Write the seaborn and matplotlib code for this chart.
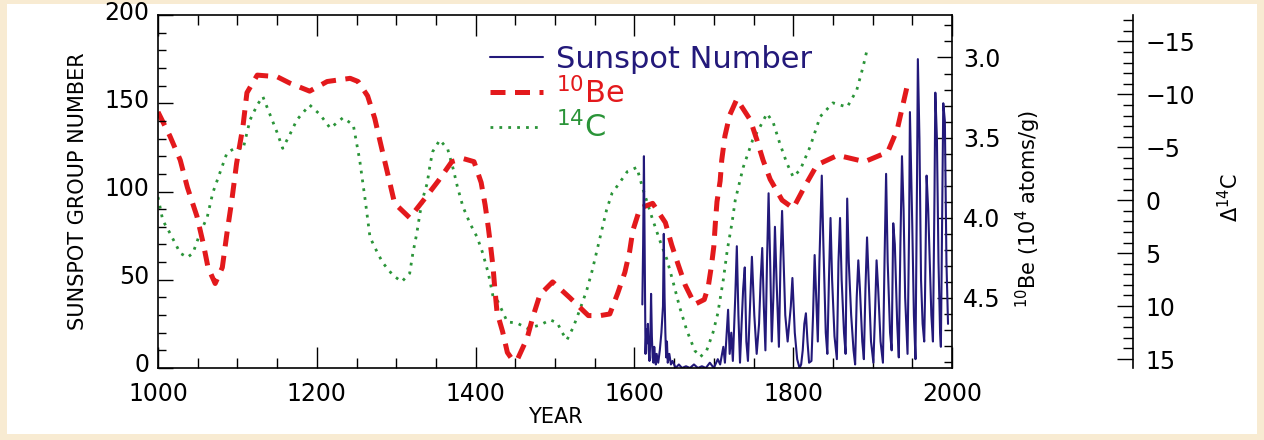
import numpy as np
import pandas as pd
import matplotlib
matplotlib.use("Agg")
import matplotlib.pyplot as plt
import matplotlib.transforms as mtransforms
import seaborn as sns
from matplotlib.ticker import MultipleLocator, FormatStrFormatter
from matplotlib.patches import Rectangle

# ---------------- data ----------------
sunspot_year = [1610, 1611, 1612, 1613, 1614, 1615, 1616, 1617, 1618, 1619, 1620, 1621, 1622, 1623,
                1624, 1625, 1626, 1627, 1628, 1630, 1632, 1634, 1636, 1637, 1638, 1639, 1640, 1641,
                1642, 1644, 1646, 1648, 1652, 1656, 1660, 1665, 1670, 1675, 1680, 1685, 1690, 1695,
                1700, 1705, 1708, 1712, 1714, 1716, 1718, 1720, 1722, 1724, 1727, 1729, 1731, 1733,
                1735, 1737, 1739, 1741, 1743, 1746, 1748, 1751, 1754, 1757, 1759, 1761, 1763, 1765,
                1767, 1769, 1771, 1773, 1775, 1777, 1779, 1782, 1784, 1786, 1788, 1790, 1793, 1795,
                1797, 1799, 1802, 1805, 1808, 1810, 1812, 1814, 1816, 1818, 1820, 1823, 1825, 1827,
                1829, 1831, 1833, 1836, 1838, 1841, 1843, 1845, 1847, 1849, 1852, 1855, 1857, 1859,
                1861, 1864, 1866, 1868, 1870, 1873, 1876, 1878, 1880, 1882, 1884, 1887, 1889, 1891,
                1893, 1895, 1898, 1901, 1903, 1905, 1907, 1910, 1913, 1915, 1917, 1919, 1922, 1924,
                1926, 1928, 1931, 1933, 1935, 1937, 1939, 1941, 1944, 1946, 1947, 1950, 1952, 1954,
                1956, 1957, 1959, 1961, 1963, 1965, 1966, 1968, 1970, 1972, 1974, 1976, 1978, 1979,
                1981, 1983, 1985, 1986, 1988, 1989, 1991, 1993, 1995]
sunspot_value = [36, 70, 120, 60, 8, 22, 14, 25, 10, 4, 15, 42, 18, 6,
                 3, 12, 5, 2, 8, 3, 10, 20, 35, 76, 40, 20, 6, 15,
                 3, 8, 2, 4, 0, 2, 0, 1, 0, 2, 0, 1, 0, 3,
                 0, 5, 2, 12, 3, 18, 33, 8, 20, 4, 40, 69, 30, 3,
                 25, 45, 57, 15, 4, 40, 63, 30, 8, 25, 50, 68, 35, 10,
                 60, 99, 60, 15, 40, 80, 50, 12, 60, 89, 60, 30, 15, 25,
                 35, 51, 20, 5, 0, 2, 10, 25, 31, 15, 3, 4, 30, 64,
                 40, 15, 60, 109, 70, 20, 8, 50, 85, 50, 18, 5, 60, 85,
                 50, 20, 8, 96, 60, 30, 10, 2, 40, 61, 45, 15, 5, 45,
                 74, 50, 15, 3, 30, 61, 45, 15, 3, 60, 110, 60, 20, 10,
                 82, 70, 25, 6, 70, 120, 90, 40, 8, 80, 145, 80, 30, 5,
                 110, 175, 130, 50, 25, 15, 40, 109, 90, 60, 30, 15, 100, 156,
                 130, 60, 20, 12, 100, 150, 140, 60, 25]

be10_year = [1000, 1015, 1028, 1037, 1049, 1057, 1063, 1072, 1081, 1087, 1093, 1099, 1107, 1112,
             1125, 1150, 1166, 1191, 1213, 1242, 1252, 1264, 1273, 1280, 1290, 1298, 1317, 1336,
             1353, 1370, 1384, 1398, 1407, 1412, 1416, 1419, 1422, 1424, 1427, 1434, 1440, 1447,
             1453, 1465, 1472, 1481, 1497, 1519, 1542, 1557, 1569, 1579, 1588, 1594, 1598, 1607,
             1623, 1639, 1647, 1655, 1664, 1676, 1688, 1693, 1697, 1700, 1702, 1704, 1708, 1710,
             1714, 1720, 1729, 1746, 1754, 1762, 1771, 1786, 1800, 1815, 1830, 1856, 1890, 1919,
             1931, 1937, 1943]
be10_value = [3.34, 3.49, 3.64, 3.81, 3.99, 4.16, 4.31, 4.41, 4.31, 4.09, 3.89, 3.66, 3.43, 3.22,
              3.11, 3.12, 3.16, 3.21, 3.15, 3.13, 3.15, 3.24, 3.38, 3.53, 3.74, 3.91, 4.00, 3.88,
              3.77, 3.65, 3.63, 3.65, 3.78, 3.92, 4.06, 4.18, 4.31, 4.43, 4.59, 4.71, 4.84, 4.89,
              4.88, 4.75, 4.62, 4.48, 4.40, 4.50, 4.61, 4.61, 4.60, 4.47, 4.34, 4.21, 4.08, 3.94,
              3.91, 4.03, 4.17, 4.29, 4.42, 4.54, 4.51, 4.43, 4.30, 4.18, 4.03, 3.90, 3.77, 3.64,
              3.49, 3.36, 3.26, 3.39, 3.51, 3.64, 3.76, 3.89, 3.94, 3.80, 3.67, 3.61, 3.65, 3.59,
              3.45, 3.32, 3.19]

c14_year = [1000, 1006, 1015, 1028, 1037, 1044, 1053, 1062, 1069, 1078, 1087, 1099, 1107, 1116,
            1125, 1132, 1141, 1150, 1157, 1166, 1175, 1191, 1204, 1217, 1233, 1246, 1254, 1261,
            1267, 1276, 1283, 1296, 1307, 1317, 1321, 1326, 1330, 1334, 1339, 1343, 1346, 1355,
            1365, 1372, 1377, 1384, 1393, 1402, 1409, 1416, 1422, 1427, 1440, 1452, 1465, 1481,
            1494, 1503, 1509, 1515, 1523, 1531, 1540, 1547, 1553, 1559, 1565, 1572, 1579, 1591,
            1603, 1611, 1622, 1632, 1641, 1649, 1657, 1666, 1676, 1683, 1691, 1699, 1705, 1712,
            1717, 1723, 1727, 1737, 1749, 1758, 1767, 1775, 1783, 1792, 1800, 1809, 1821, 1834,
            1850, 1868, 1880, 1888, 1893]
c14_value = [-0.3, 1.9, 3.1, 5.0, 5.4, 5.0, 3.1, 1.6, -0.7, -2.6, -4.5, -5.0, -4.8, -7.6,
             -9.0, -9.8, -8.1, -6.4, -4.9, -6.2, -7.6, -9.0, -8.1, -6.8, -7.8, -7.1, -3.8, 0.0,
             3.5, 4.9, 5.9, 7.1, 7.7, 6.9, 5.0, 3.1, 1.2, -0.3, -1.6, -3.5, -4.6, -5.7,
             -4.8, -2.9, -1.3, 0.6, 2.2, 3.5, 5.0, 6.9, 9.1, 9.4, 11.5, 11.6, 12.1, 11.8,
             11.3, 11.6, 12.5, 13.2, 12.0, 10.4, 8.5, 6.6, 4.7, 2.8, 0.9, -0.7, -1.4, -2.7,
             -3.1, -1.0, 1.6, 3.8, 5.6, 7.8, 10.1, 12.3, 14.2, 14.8, 14.2, 12.5, 10.7, 7.5,
             4.7, 2.1, 0.0, -3.1, -5.7, -6.9, -8.2, -7.3, -5.4, -3.5, -2.2, -2.9, -5.0, -7.9,
             -9.2, -8.8, -10.4, -12.6, -14.2]

legend_labels = ["Sunspot Number", r"$^{10}$Be", r"$^{14}$C"]

# ---------------- styling ----------------
sns.set_theme(style="white")
plt.rcParams['font.family'] = ['DejaVu Sans']
plt.rcParams['axes.unicode_minus'] = True
for key in ("text.color", "axes.labelcolor", "xtick.color", "ytick.color", "axes.edgecolor"):
    plt.rcParams[key] = "black"

SUN_C = "#23197a"
BE_C = "#e3191c"
C14_C = "#2a9438"
TICK_FS = 17

fig = plt.figure(figsize=(12.64, 4.40), dpi=100, facecolor="#F8EBD2")
fig.add_artist(Rectangle((7 / 1264, 6 / 440), 1250 / 1264, 430 / 440,
                         transform=fig.transFigure, facecolor="white",
                         edgecolor="none", zorder=-5))

L, R, T, B = 158, 952, 15, 368
W, H = 1264, 440
ax = fig.add_axes([L / W, 1 - B / H, (R - L) / W, (B - T) / H])
ax.patch.set_visible(False)
ax2 = ax.twinx()
ax_c = ax.twinx()
ax.set_zorder(3)
ax2.set_zorder(2)
ax_c.set_zorder(1)

# 14C dotted
sns.lineplot(x=c14_year, y=c14_value, ax=ax_c, color=C14_C, linewidth=2.0,
             linestyle=(0, (1.0, 2.2)), estimator=None, sort=False)
# 10Be dashed
sns.lineplot(x=be10_year, y=be10_value, ax=ax2, color=BE_C, linewidth=3.6,
             linestyle=(0, (3.0, 1.9)), estimator=None, sort=False)
# Sunspot number
sns.lineplot(x=sunspot_year, y=sunspot_value, ax=ax, color=SUN_C, linewidth=1.5,
             estimator=None, sort=False)

# main axis
ax.set_xlim(1000, 2000)
ax.set_ylim(0, 200)
ax.xaxis.set_major_locator(MultipleLocator(200))
ax.xaxis.set_minor_locator(MultipleLocator(50))
ax.yaxis.set_major_locator(MultipleLocator(50))
ax.yaxis.set_minor_locator(MultipleLocator(10))
ax.tick_params(axis="x", which="both", direction="in", top=True, bottom=True,
               labelsize=TICK_FS, pad=10, color="black", width=1.0)
ax.tick_params(axis="x", which="major", length=15)
ax.tick_params(axis="x", which="minor", length=7)
ax.tick_params(axis="y", which="both", direction="in", left=True, right=False,
               labelsize=TICK_FS, pad=6, width=1.0)
ax.tick_params(axis="y", which="major", length=11)
ax.tick_params(axis="y", which="minor", length=6)
for s in ax.spines.values():
    s.set_visible(True)
    s.set_color("black")
    s.set_linewidth(1.2)
ax.set_xlabel("YEAR", fontsize=15, labelpad=1)
ax.set_ylabel("SUNSPOT GROUP NUMBER", fontsize=15, labelpad=12)
# nudge left tick labels slightly upward like the reference
shift_up = mtransforms.ScaledTranslation(0, 5 / 100, fig.dpi_scale_trans)
for lab in ax.get_yticklabels():
    lab.set_transform(lab.get_transform() + shift_up)

# 10Be axis
ax2.set_ylim(4.937, 2.735)
ax2.yaxis.set_major_locator(MultipleLocator(0.5))
ax2.yaxis.set_minor_locator(MultipleLocator(0.1))
ax2.yaxis.set_major_formatter(FormatStrFormatter("%.1f"))
ax2.tick_params(axis="y", which="both", direction="in", right=True, left=False,
                labelright=True, labelleft=False, labelsize=TICK_FS, pad=8, width=1.0)
ax2.tick_params(axis="y", which="major", length=11)
ax2.tick_params(axis="y", which="minor", length=6)
for s in ax2.spines.values():
    s.set_visible(False)
ax2.set_ylabel(r"$^{10}$Be (10$^4$ atoms/g)", fontsize=15)
ax2.yaxis.set_label_coords(1.078, 0.45)
ax2.set_xlabel("")

# hidden 14C data axis
ax_c.set_ylim(15.85, -17.5)
ax_c.set_yticks([])
ax_c.set_ylabel("")
for s in ax_c.spines.values():
    s.set_visible(False)

# visible Δ14C axis
spine_x = 1133
ax3 = fig.add_axes([(spine_x - 40) / W, 1 - B / H, 40 / W, (B - T) / H])
ax3.patch.set_visible(False)
ax3.set_ylim(15.85, -17.5)
ax3.xaxis.set_visible(False)
for k, s in ax3.spines.items():
    s.set_visible(k == "right")
ax3.spines["right"].set_linewidth(1.2)
ax3.spines["right"].set_color("black")
ax3.yaxis.tick_right()
ax3.yaxis.set_major_locator(MultipleLocator(5))
ax3.yaxis.set_minor_locator(MultipleLocator(1))
ax3.tick_params(axis="y", which="both", direction="in", right=True, left=False,
                labelright=True, labelleft=False, labelsize=TICK_FS, pad=9, width=1.0)
ax3.tick_params(axis="y", which="major", length=11.5)
ax3.tick_params(axis="y", which="minor", length=7.5)
fig.text(1230 / W, 1 - 197 / H, r"$\Delta^{14}$C", rotation=90, fontsize=15,
         ha="center", va="center")

# legend
handles = [ax.get_lines()[0], ax2.get_lines()[0], ax_c.get_lines()[0]]
leg = ax.legend(handles, legend_labels, loc="upper left",
                bbox_to_anchor=((490 - L) / (R - L), (B - 45) / (B - T)),
                frameon=False, fontsize=22, handlelength=1.75, handletextpad=0.4,
                labelspacing=0.08, borderpad=0, borderaxespad=0,
                labelcolor=[SUN_C, BE_C, C14_C])

fig.savefig("out.png", dpi=100, facecolor=fig.get_facecolor())
